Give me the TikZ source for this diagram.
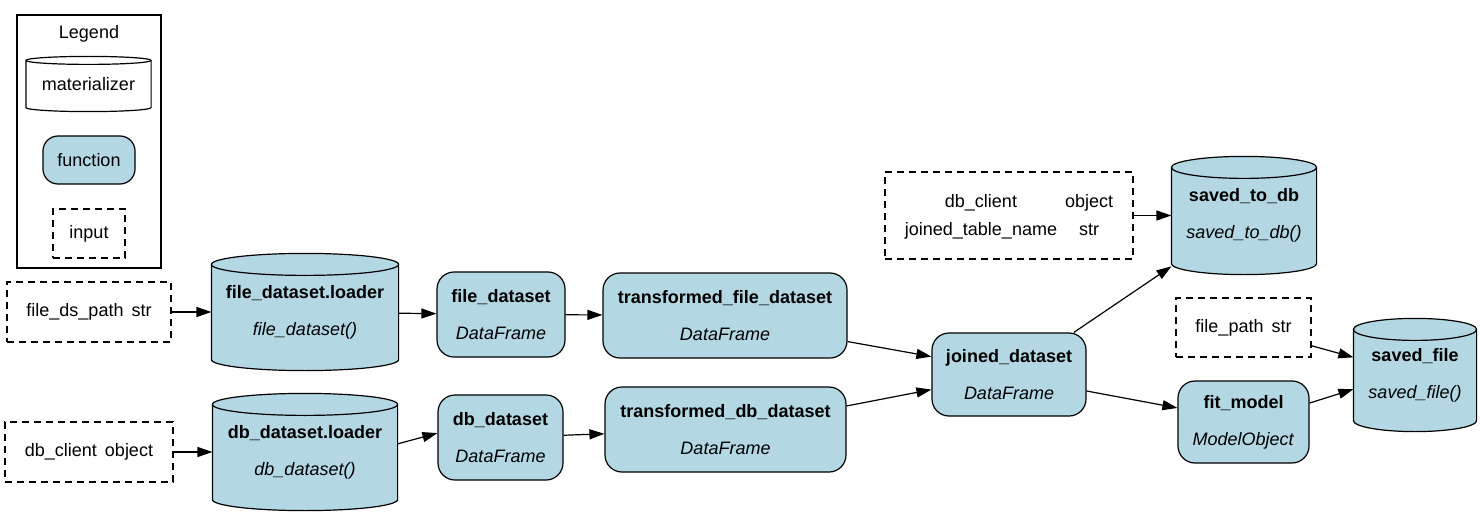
\documentclass[tikz,border=0pt]{standalone}
\usepackage{fontspec}
\setmainfont{Liberation Sans}
\usetikzlibrary{arrows.meta,calc,backgrounds}
\definecolor{fnblue}{HTML}{B3D8E4}
\tikzset{
  base/.style={font=\fontsize{18}{37}\selectfont, align=center, inner sep=0pt, line width=1.2pt},
  fnode/.style={base, draw, fill=fnblue, rounded corners=17pt},
  inode/.style={base, draw, dash pattern=on 7pt off 5pt},
  cnode/.style={base},
  edge/.style={line width=1.2pt, -{Triangle[length=15pt,width=10pt]}},
}
\newcommand\cylshape[3][fnblue]{%
  \path[draw, fill=#1, line width=1.2pt] let \p1=(#2.north west), \p2=(#2.south east), \n1={0.5*(\x2-\x1)} in
    (\x1,\y1-#3) -- (\x1,\y2+#3) arc[start angle=180,end angle=360,x radius=\n1,y radius=#3]
    -- (\x2,\y1-#3) arc[start angle=0,end angle=180,x radius=\n1,y radius=#3] -- cycle;
  \draw[line width=1.2pt] let \p1=(#2.north west), \p2=(#2.south east), \n1={0.5*(\x2-\x1)} in
    (\x1,\y1-#3) arc[start angle=180,end angle=360,x radius=\n1,y radius=#3];}
\begin{document}
\begin{tikzpicture}[x=1pt,y=1pt]
\useasboundingbox (0,0) rectangle (1482,-516);
% legend
\node[draw, line width=1.2pt, minimum width=144pt, minimum height=253pt, inner sep=0pt] (legend) at (89,-141.5) {};
\node[cnode] (legtitle) at (89,-34) {Legend};
\node[cnode, minimum width=124pt, minimum height=54pt] (mat) at (88.5,-84) {materializer};
\node[fnode, rounded corners=15pt, minimum width=92pt, minimum height=48pt] (func) at (89,-160) {function};
\node[inode, minimum width=72pt, minimum height=49pt] (inp) at (89,-233.5) {input};
% inputs
\node[inode, minimum width=164pt, minimum height=60pt] (fp) at (89,-312) {file\_ds\_path\hspace{8pt}str};
\node[inode, minimum width=168pt, minimum height=60pt] (dbc) at (89,-452) {db\_client\hspace{8pt}object};
\node[inode, minimum width=248pt, minimum height=87pt] (params) at (1009,-215.5)
  {\fontsize{18}{28}\selectfont\begin{tabular}{@{}c@{\hspace{8pt}}c@{}}db\_client & object\\ joined\_table\_name & str\end{tabular}};
\node[inode, minimum width=135pt, minimum height=59pt] (fpath) at (1243.5,-327.5) {file\_path\hspace{8pt}str};
% materializers (cylinders)
\node[cnode, minimum width=186pt, minimum height=116pt] (fl) at (305,-312) {\textbf{file\_dataset.loader}\\\textit{file\_dataset()}};
\node[cnode, minimum width=184pt, minimum height=116pt] (dl) at (305,-452) {\textbf{db\_dataset.loader}\\\textit{db\_dataset()}};
\node[cnode, minimum width=144pt, minimum height=117pt] (s2db) at (1244,-215.5) {\textbf{saved\_to\_db}\\\textit{saved\_to\_db()}};
\node[cnode, minimum width=122pt, minimum height=112pt] (sf) at (1415,-375) {\textbf{saved\_file}\\\textit{saved\_file()}};
% functions
\node[fnode, minimum width=128pt, minimum height=85pt] (fd) at (501,-314.5) {\textbf{file\_dataset}\\\textit{DataFrame}};
\node[fnode, minimum width=244pt, minimum height=85pt] (tfd) at (725,-315.5) {\textbf{transformed\_file\_dataset}\\\textit{DataFrame}};
\node[fnode, minimum width=125pt, minimum height=85pt] (dd) at (500.5,-437.5) {\textbf{db\_dataset}\\\textit{DataFrame}};
\node[fnode, minimum width=241pt, minimum height=85pt] (tdd) at (725.5,-429.5) {\textbf{transformed\_db\_dataset}\\\textit{DataFrame}};
\node[fnode, minimum width=154pt, minimum height=83pt] (j) at (1009,-374.5) {\textbf{joined\_dataset}\\\textit{DataFrame}};
\node[fnode, minimum width=131pt, minimum height=82pt] (fit) at (1243.5,-422) {\textbf{fit\_model}\\\textit{ModelObject}};
% cylinder outlines
\begin{scope}[on background layer]
  \cylshape[white]{mat}{4pt}
  \cylshape{fl}{11pt}
  \cylshape{dl}{11pt}
  \cylshape{s2db}{11pt}
  \cylshape{sf}{11pt}
\end{scope}
% edges
\draw[edge] (fp) -- (fl);
\draw[edge] (dbc) -- (dl);
\draw[edge] (fl) -- (fd);
\draw[edge] (dl.5) -- (dd.176.8);
\draw[edge] (fd) -- (tfd);
\draw[edge] (dd) -- (tdd);
\draw[edge] (tfd.-12.3) -- (j.167.9);
\draw[edge] (tdd.11.5) -- (j.191.4);
\draw[edge] (j.33) -- (s2db.215.6);
\draw[edge] (j.-12.1) -- (fit.168.8);
\draw[edge] (params) -- (s2db);
\draw[edge] (fpath.-15.3) -- (sf.164.4);
\draw[edge] (fit.16.2) -- (sf.193.8);
\end{tikzpicture}
\end{document}
